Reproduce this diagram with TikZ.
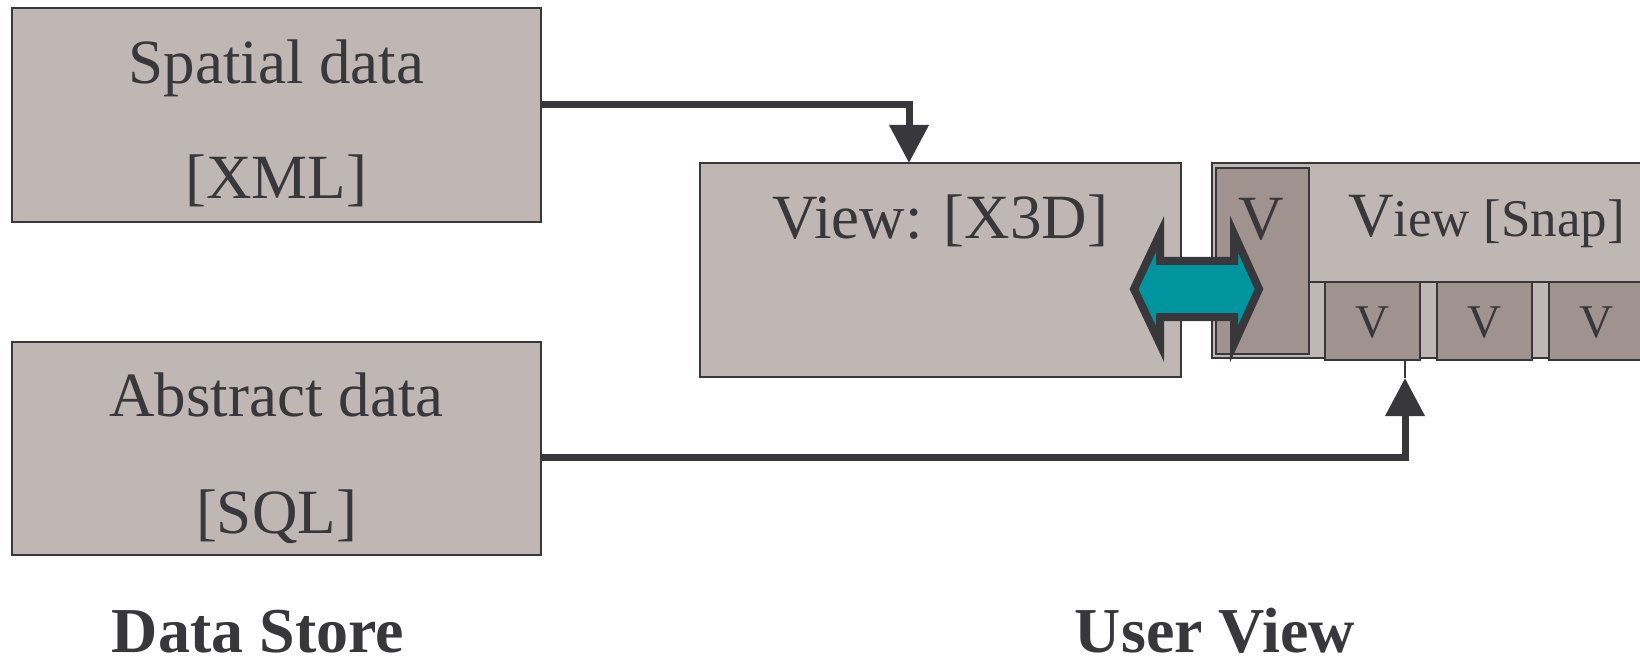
\documentclass[tikz,border=0pt]{standalone}
\usepackage{fontspec}
\setmainfont{Liberation Serif}
\usetikzlibrary{arrows.meta,calc}
\definecolor{boxfill}{RGB}{192,182,179}
\definecolor{vfill}{RGB}{160,146,142}
\definecolor{ink}{RGB}{56,55,60}
\definecolor{tealfill}{RGB}{0,148,158}
\begin{document}
\begin{tikzpicture}[x=1pt,y=-1pt,
  panel/.style={draw=ink, line width=2.5pt, fill=boxfill, inner sep=0pt, outer sep=0pt},
  vpanel/.style={draw=ink, line width=2.5pt, fill=vfill, inner sep=0pt, outer sep=0pt},
  bigtext/.style={text=ink, font=\fontsize{63}{70}\selectfont, anchor=base, inner sep=0pt},
  smalltext/.style={text=ink, font=\fontsize{47}{52}\selectfont, anchor=base, inner sep=0pt},
  caption/.style={text=ink, font=\fontsize{64}{70}\selectfont\bfseries, anchor=base, inner sep=0pt, text depth=0pt},
  flow/.style={draw=ink, line width=7pt, -{Triangle[length=38pt,width=38pt]}},
  swap/.style={draw=ink, fill=tealfill, line width=8pt, line join=miter}]
\useasboundingbox (0,0) rectangle (1640,660);
\clip (0,0) rectangle (1640,660);

% data store boxes
\node[panel, minimum width=529pt, minimum height=214pt] (spatial) at (276.5,115) {};
\node[panel, minimum width=529pt, minimum height=213pt] (abstract) at (276.5,448.5) {};
\node[bigtext] (spatialA) at (276.5,84) {Spatial data};
\node[bigtext] (spatialB) at (276.5,199) {[XML]};
\node[bigtext] (abstractA) at (276.5,416) {Abstract data};
\node[bigtext] (abstractB) at (276.5,533) {[SQL]};

% X3D view
\node[panel, minimum width=481pt, minimum height=214pt] (x3d) at (940.5,270) {};
\node[bigtext] (x3dtext) at (940.5,239) {View: [X3D]};

% snapshot view with its sub-views
\node[panel, minimum width=448pt, minimum height=195pt] (snap) at (1436,260.5) {};
\draw[draw=ink, line width=2.5pt] (1309,282) -- (1660,282);
\node[vpanel, minimum width=93pt, minimum height=186pt] (vmain) at (1262.5,261) {};
\node[bigtext] (vmaintext) at (1261,240) {V};
\node[bigtext, anchor=base west] (snaptext) at (1348,237)
  {V\fontsize{53}{58}\selectfont iew [Snap]};
\node[vpanel, minimum width=95pt, minimum height=78pt] (v1) at (1372.5,321) {};
\node[vpanel, minimum width=95pt, minimum height=78pt] (v2) at (1484.5,321) {};
\node[vpanel, minimum width=95pt, minimum height=78pt] (v3) at (1596.5,321) {};
\node[smalltext] (v1t) at (v1.center |- 0,337) {V};
\node[smalltext] (v2t) at (v2.center |- 0,337) {V};
\node[smalltext] (v3t) at (v3.center |- 0,337) {V};

% exchange between the two views
\draw[swap] (1134,289) -- (1160,234) -- (1160,261) -- (1234,261) -- (1234,234)
  -- (1259,289) -- (1234,344) -- (1234,317) -- (1160,317) -- (1160,344) -- cycle;

% data flows
\draw[flow] ([yshift=10pt]spatial.east) -| ([xshift=-31.5pt]x3d.north);
\coordinate (tip) at ([xshift=32.5pt,yshift=-18pt]v1.south);
\draw[flow] ([yshift=-8.5pt]abstract.east) -| (tip);
\draw[draw=ink, line width=2pt] (tip) -- ([xshift=32.5pt]v1.south);

% captions
\node[caption] (store) at (258,652) {Data Store};
\node[caption] (user) at (1215,652) {User View};
\end{tikzpicture}
\end{document}
